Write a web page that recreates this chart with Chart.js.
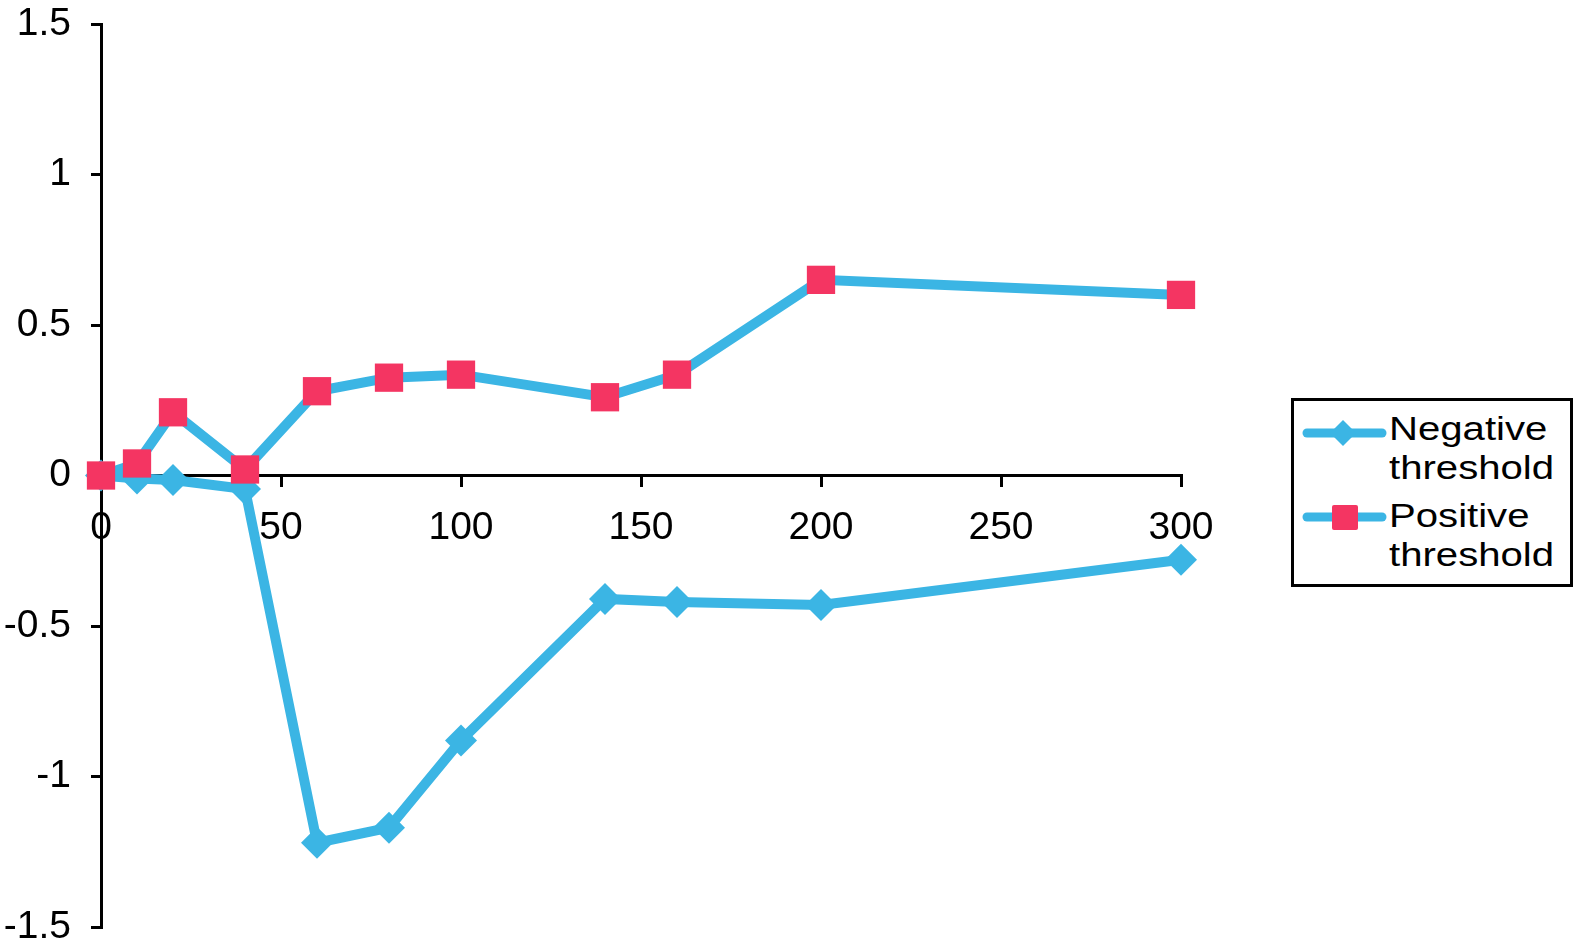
<!DOCTYPE html>
<html>
<head>
<meta charset="utf-8">
<script src="https://cdn.jsdelivr.net/npm/chart.js@4.4.1/dist/chart.umd.min.js"></script>
<style>
  html, body { margin: 0; padding: 0; background: #ffffff; }
  #wrap { position: relative; width: 1575px; height: 948px; overflow: hidden; }
  #chart { position: absolute; left: 0; top: 0; }
  #legendBox { position: absolute; left: 1291px; top: 398px; width: 276px; height: 183px; border: 3px solid #000; background: #fff; }
  .sym { position: absolute; }
  .ltxt { position: absolute; left: 1389px; font-family: "Liberation Sans", Arial, Helvetica, sans-serif; font-size: 34px; line-height: 39px; color: #000; white-space: nowrap; transform: scaleX(1.18); transform-origin: left top; }
</style>
</head>
<body>
<div id="wrap">
  <canvas id="chart" width="1575" height="948"></canvas>
  <div id="legendBox"></div>
  <svg class="sym" style="left:1300px;top:418px" width="90" height="30">
    <line x1="7" y1="15" x2="82" y2="15" stroke="#3BB5E4" stroke-width="9" stroke-linecap="round"/>
    <polygon points="43,2 56,15 43,28 30,15" fill="#3BB5E4"/>
  </svg>
  <svg class="sym" style="left:1300px;top:502px" width="90" height="30">
    <line x1="7" y1="15" x2="82" y2="15" stroke="#3BB5E4" stroke-width="9" stroke-linecap="round"/>
    <rect x="32" y="3" width="26" height="25" rx="2" fill="#F43562"/>
  </svg>
  <div class="ltxt" style="top:409px">Negative<br>threshold</div>
  <div class="ltxt" style="top:496px">Positive<br>threshold</div>
</div>
<script>
const xValues = [0, 10, 20, 40, 60, 80, 100, 140, 160, 200, 300];
const negativeValues = [0, -0.01, -0.015, -0.045, -1.22, -1.17, -0.88, -0.41, -0.42, -0.43, -0.28];
const positiveValues = [0, 0.04, 0.21, 0.02, 0.28, 0.325, 0.335, 0.26, 0.335, 0.65, 0.6];
const seriesNames = ['Negative threshold', 'Positive threshold'];
const xTickStep = 50;
const yTickStep = 0.5;

const BLUE = '#3BB5E4';
const PINK = '#F43562';

function pairs(vals) { return xValues.map((x, i) => ({ x: x, y: vals[i] })); }

const axisFont = { family: '"Liberation Sans", Arial, Helvetica, sans-serif', size: 39 };

new Chart(document.getElementById('chart'), {
  type: 'line',
  data: {
    datasets: [
      {
        label: seriesNames[0],
        data: pairs(negativeValues),
        borderColor: BLUE,
        borderWidth: 10,
        backgroundColor: BLUE,
        pointStyle: 'rectRot',
        pointRadius: 16,
        pointBorderWidth: 0,
        pointBackgroundColor: BLUE,
        tension: 0,
        clip: false,
        order: 1
      },
      {
        label: seriesNames[1],
        data: pairs(positiveValues),
        borderColor: BLUE,
        borderWidth: 10,
        backgroundColor: PINK,
        pointStyle: 'rect',
        pointRadius: 20,
        pointBorderWidth: 0,
        pointBackgroundColor: PINK,
        tension: 0,
        clip: false,
        order: 0
      }
    ]
  },
  options: {
    responsive: false,
    animation: false,
    layout: { padding: { left: 0, top: 24, right: 394, bottom: 21 } },
    plugins: { legend: { display: false }, tooltip: { enabled: false } },
    scales: {
      x: {
        type: 'linear',
        position: { y: 0 },
        min: 0,
        max: 300,
        afterFit: (s) => { s.height = 0; s.paddingLeft = 0; s.paddingRight = 0; s.paddingTop = 0; s.paddingBottom = 0; },
        ticks: { stepSize: xTickStep, color: '#000', font: axisFont, padding: 19, maxRotation: 0, autoSkip: false },
        grid: { display: true, drawOnChartArea: false, drawTicks: true, tickLength: 10, color: '#000', lineWidth: 3 },
        border: { display: true, color: '#000', width: 3 }
      },
      y: {
        type: 'linear',
        position: 'left',
        min: -1.5,
        max: 1.5,
        afterFit: (s) => { s.width = 101; s.paddingTop = 0; s.paddingBottom = 0; s.paddingLeft = 0; s.paddingRight = 0; },
        ticks: { stepSize: yTickStep, color: '#000', font: axisFont, padding: 20, callback: (v) => String(v) },
        grid: { display: true, drawOnChartArea: false, drawTicks: true, tickLength: 10, color: '#000', lineWidth: 3 },
        border: { display: true, color: '#000', width: 3 }
      }
    }
  }
});
</script>
</body>
</html>
